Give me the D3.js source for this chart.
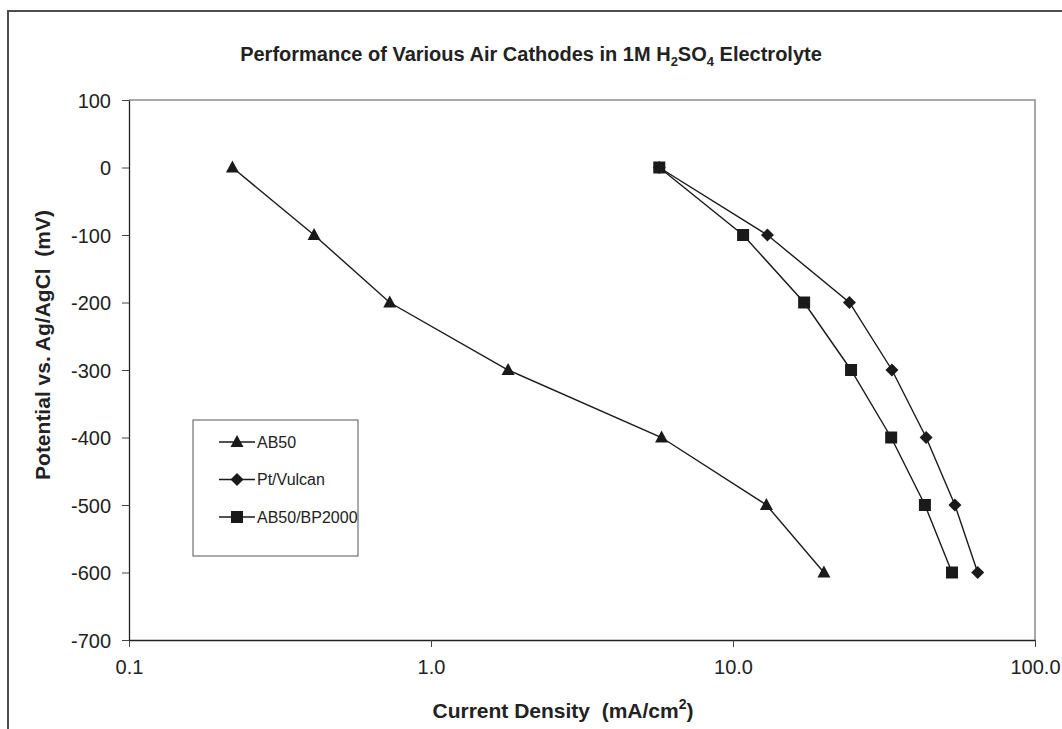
<!DOCTYPE html>
<html>
<head>
<meta charset="utf-8">
<script src="https://cdn.jsdelivr.net/npm/d3@7"></script>
<style>
    html, body { margin: 0; padding: 0; background: #fff; }
    svg { display: block; font-family: "Liberation Sans", Arial, sans-serif; }
    .keep-space { white-space: pre; }
</style>
</head>
<body>
<div id="chart"></div>
<script>
// ---- data ----
const potentials = [0, -100, -200, -300, -400, -500, -600];
const ab50 = [0.22, 0.41, 0.73, 1.80, 5.8, 12.9, 20.0];
const ptVulcan = [5.7, 13.0, 24.3, 33.6, 43.6, 54.3, 64.6];
const ab50Bp2000 = [5.7, 10.8, 17.2, 24.6, 33.4, 43.2, 53.1];
const seriesNames = ['AB50', 'Pt/Vulcan', 'AB50/BP2000'];
const seriesSymbols = ['triangle', 'diamond', 'square'];
const xTicks = [0.1, 1, 10, 100];
const yTicks = [100, 0, -100, -200, -300, -400, -500, -600, -700];

class Chart {
    constructor() {
        const attrs = {
            container: '#chart',
            svgWidth: 1062,
            svgHeight: 729,
            marginTop: 100,
            marginLeft: 129,
            marginRight: 27,
            marginBottom: 89,
            textFill: '#222'
        };
        this.getState = () => attrs;
        this.setState = (d) => Object.assign(attrs, d);
    }

    render() {
        this.drawSvgAndWrappers();
        this.drawAxes();
        this.drawSeries();
        this.drawLegend();
        this.drawTitles();
    }

    drawSvgAndWrappers() {
        const { container, svgWidth, svgHeight, marginTop, marginLeft, marginRight, marginBottom } = this.getState();
        const svg = d3.select(container).append('svg')
            .attr('width', svgWidth)
            .attr('height', svgHeight);

        // outer chart frame, cut off on the right and bottom like the reference
        svg.append('rect')
            .attr('x', 8).attr('y', 11)
            .attr('width', 1200).attr('height', 900)
            .attr('fill', 'none')
            .attr('stroke', '#4d4d4d')
            .attr('stroke-width', 2);

        const chartWidth = svgWidth - marginLeft - marginRight;
        const chartHeight = svgHeight - marginTop - marginBottom;
        const chart = svg.append('g').attr('transform', `translate(${marginLeft},${marginTop})`);

        const xScale = d3.scaleLog().domain([0.1, 100]).range([0, chartWidth]);
        const yScale = d3.scaleLinear().domain([-700, 100]).range([chartHeight, 0]);

        this.setState({ svg, chart, chartWidth, chartHeight, xScale, yScale });
    }

    drawAxes() {
        const { chart, chartWidth, chartHeight, xScale, yScale, textFill } = this.getState();

        // plot-area border: grey on top and right
        chart.append('path')
            .attr('d', `M0,0H${chartWidth}V${chartHeight}`)
            .attr('fill', 'none')
            .attr('stroke', '#8c8c8c')
            .attr('stroke-width', 1.5);

        const xAxis = d3.axisBottom(xScale).tickValues(xTicks).tickSize(7).tickSizeOuter(0)
            .tickFormat(d3.format('.1f'));
        const yAxis = d3.axisLeft(yScale).tickValues(yTicks).tickSize(7).tickSizeOuter(0)
            .tickFormat(d => d);

        const xAxisWrap = chart.append('g').attr('transform', `translate(0,${chartHeight})`).call(xAxis);
        const yAxisWrap = chart.append('g').call(yAxis);

        [xAxisWrap, yAxisWrap].forEach(w => {
            w.attr('font-family', null).attr('font-size', 20);
            w.select('.domain').attr('stroke', '#222').attr('stroke-width', 1.3);
            w.selectAll('.tick line').attr('stroke', '#444').attr('stroke-width', 1);
            w.selectAll('text').attr('fill', textFill);
        });
        xAxisWrap.selectAll('text').attr('y', 20);
        yAxisWrap.selectAll('text').attr('x', -18).attr('dy', '0.35em');
    }

    drawSeries() {
        const { chart, xScale, yScale } = this.getState();
        const allSeries = [ab50, ptVulcan, ab50Bp2000].map((vals, i) => ({
            name: seriesNames[i],
            symbol: seriesSymbols[i],
            points: vals.map((v, j) => ({ x: v, y: potentials[j] }))
        }));

        const line = d3.line().x(d => xScale(d.x)).y(d => yScale(d.y));

        const seriesWrap = chart.append('g').attr('class', 'series-wrapper');
        const groups = seriesWrap.selectAll('g.series').data(allSeries).join('g').attr('class', 'series');

        groups.append('path')
            .attr('d', d => line(d.points))
            .attr('fill', 'none')
            .attr('stroke', '#1a1a1a')
            .attr('stroke-width', 1.4);

        groups.each((s, i, nodes) => {
            d3.select(nodes[i]).selectAll('path.marker').data(s.points).join('path')
                .attr('class', 'marker')
                .attr('d', this.symbolPath(s.symbol))
                .attr('transform', d => `translate(${xScale(d.x)},${yScale(d.y)})`)
                .attr('fill', '#1a1a1a');
        });

        this.setState({ allSeries });
    }

    symbolPath(name) {
        if (name === 'triangle') return 'M0,-7L6.5,5L-6.5,5Z';
        if (name === 'diamond') return 'M0,-6.5L6.5,0L0,6.5L-6.5,0Z';
        return 'M-6,-6H6V6H-6Z';
    }

    drawLegend() {
        const { svg, allSeries, textFill } = this.getState();
        const legend = svg.append('g').attr('transform', 'translate(193,420)');
        legend.append('rect')
            .attr('width', 165).attr('height', 136)
            .attr('fill', '#fff')
            .attr('stroke', '#555')
            .attr('stroke-width', 1);

        const items = legend.selectAll('g.item').data(allSeries).join('g')
            .attr('class', 'item')
            .attr('transform', (d, i) => `translate(0,${22 + i * 37.5})`);
        items.append('line')
            .attr('x1', 26).attr('x2', 62)
            .attr('stroke', '#1a1a1a').attr('stroke-width', 1.4);
        items.append('path')
            .attr('d', d => this.symbolPath(d.symbol))
            .attr('transform', 'translate(44,0)')
            .attr('fill', '#1a1a1a');
        items.append('text')
            .attr('x', 64).attr('dy', '0.35em')
            .attr('font-size', 16)
            .attr('fill', textFill)
            .text(d => d.name);
    }

    drawTitles() {
        const { svg, textFill } = this.getState();

        const title = svg.append('text')
            .attr('x', 531).attr('y', 61)
            .attr('text-anchor', 'middle')
            .attr('font-size', 20).attr('font-weight', 'bold')
            .attr('fill', textFill);
        title.append('tspan').text('Performance of Various Air Cathodes in 1M H');
        title.append('tspan').attr('font-size', 13).attr('dy', 5).text('2');
        title.append('tspan').attr('dy', -5).text('SO');
        title.append('tspan').attr('font-size', 13).attr('dy', 5).text('4');
        title.append('tspan').attr('dy', -5).text(' Electrolyte');

        const xTitle = svg.append('text')
            .attr('class', 'keep-space')
            .attr('x', 563).attr('y', 718)
            .attr('text-anchor', 'middle')
            .attr('font-size', 21).attr('font-weight', 'bold')
            .attr('fill', textFill);
        xTitle.append('tspan').text('Current Density  (mA/cm');
        xTitle.append('tspan').attr('font-size', 14).attr('dy', -9).text('2');
        xTitle.append('tspan').attr('dy', 9).text(')');

        svg.append('text')
            .attr('class', 'keep-space')
            .attr('transform', 'translate(50,345) rotate(-90)')
            .attr('text-anchor', 'middle')
            .attr('font-size', 21).attr('font-weight', 'bold')
            .attr('fill', textFill)
            .text('Potential vs. Ag/AgCl  (mV)');
    }
}

new Chart().render();
</script>
</body>
</html>
